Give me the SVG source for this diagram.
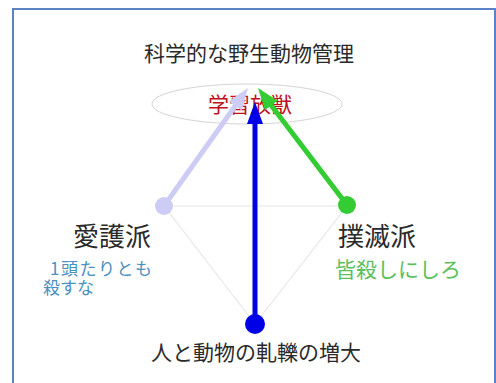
<svg xmlns="http://www.w3.org/2000/svg" width="496" height="383" viewBox="0 0 496 383">
<style>
text{font-family:"Noto Sans CJK JP","Noto Sans CJK SC",sans-serif;}
.dark{fill:#2a2a2a;}
.guide{stroke:#e6e6e6;stroke-width:1.2;fill:none;}
.arrow{stroke-width:5;fill:none;}
</style>
<defs>
<marker id="hb" viewBox="0 0 22 16" markerWidth="22" markerHeight="16" refX="6" refY="8" orient="auto" markerUnits="userSpaceOnUse"><path d="M0,0 L22,8 L0,16 z" fill="#0000e6"/></marker>
<marker id="hl" viewBox="0 0 22 16" markerWidth="22" markerHeight="16" refX="6" refY="8" orient="auto" markerUnits="userSpaceOnUse"><path d="M0,0 L22,8 L0,16 z" fill="#ccccf5"/></marker>
<marker id="hg" viewBox="0 0 22 16" markerWidth="22" markerHeight="16" refX="6" refY="8" orient="auto" markerUnits="userSpaceOnUse"><path d="M0,0 L22,8 L0,16 z" fill="#33cc33"/></marker>
</defs>
<rect x="0" y="0" width="496" height="383" fill="#ffffff"/>
<rect x="13" y="9" width="482" height="384" fill="none" stroke="#5a82c4" stroke-width="2"/>
<g id="title"><text x="249" y="61" font-size="21" text-anchor="middle" class="dark">科学的な野生動物管理</text></g>
<g id="goal">
<ellipse cx="247" cy="104" rx="95" ry="20" fill="none" stroke="#d4d4d4" stroke-width="1"/>
<text x="250" y="112" font-size="21" text-anchor="middle" fill="#c0101a">学習放獣</text>
</g>
<g id="guides">
<line class="guide" x1="164" y1="206" x2="347" y2="206"/>
<line class="guide" x1="164" y1="206" x2="255" y2="324"/>
<line class="guide" x1="347" y1="206" x2="255" y2="324"/>
</g>
<g id="connectors">
<line class="arrow" x1="164" y1="206" x2="238.7" y2="101" stroke="#ccccf5" marker-end="url(#hl)"/>
<line class="arrow" x1="347" y1="205" x2="267.7" y2="100.7" stroke="#33cc33" marker-end="url(#hg)"/>
<line class="arrow" x1="255" y1="324" x2="255" y2="118" stroke="#0000e6" marker-end="url(#hb)"/>
</g>
<g id="aigo">
<circle cx="164" cy="206" r="9" fill="#ccccf5"/>
<text x="112" y="246" font-size="26" text-anchor="middle" class="dark">愛護派</text>
<text font-size="17" fill="#4a90c0"><tspan x="50" y="275" letter-spacing="1.5">1頭たりとも</tspan><tspan x="43" y="294">殺すな</tspan></text>
</g>
<g id="bokumetsu">
<circle cx="347" cy="205" r="9" fill="#33cc33"/>
<text x="377" y="246" font-size="26" text-anchor="middle" class="dark">撲滅派</text>
<text x="335" y="277" font-size="21" fill="#5cc05c">皆殺しにしろ</text>
</g>
<g id="conflict">
<circle cx="255" cy="324" r="10" fill="#0000e6"/>
<text x="256" y="360" font-size="21" text-anchor="middle" class="dark">人と動物の軋轢の増大</text>
</g>
</svg>
